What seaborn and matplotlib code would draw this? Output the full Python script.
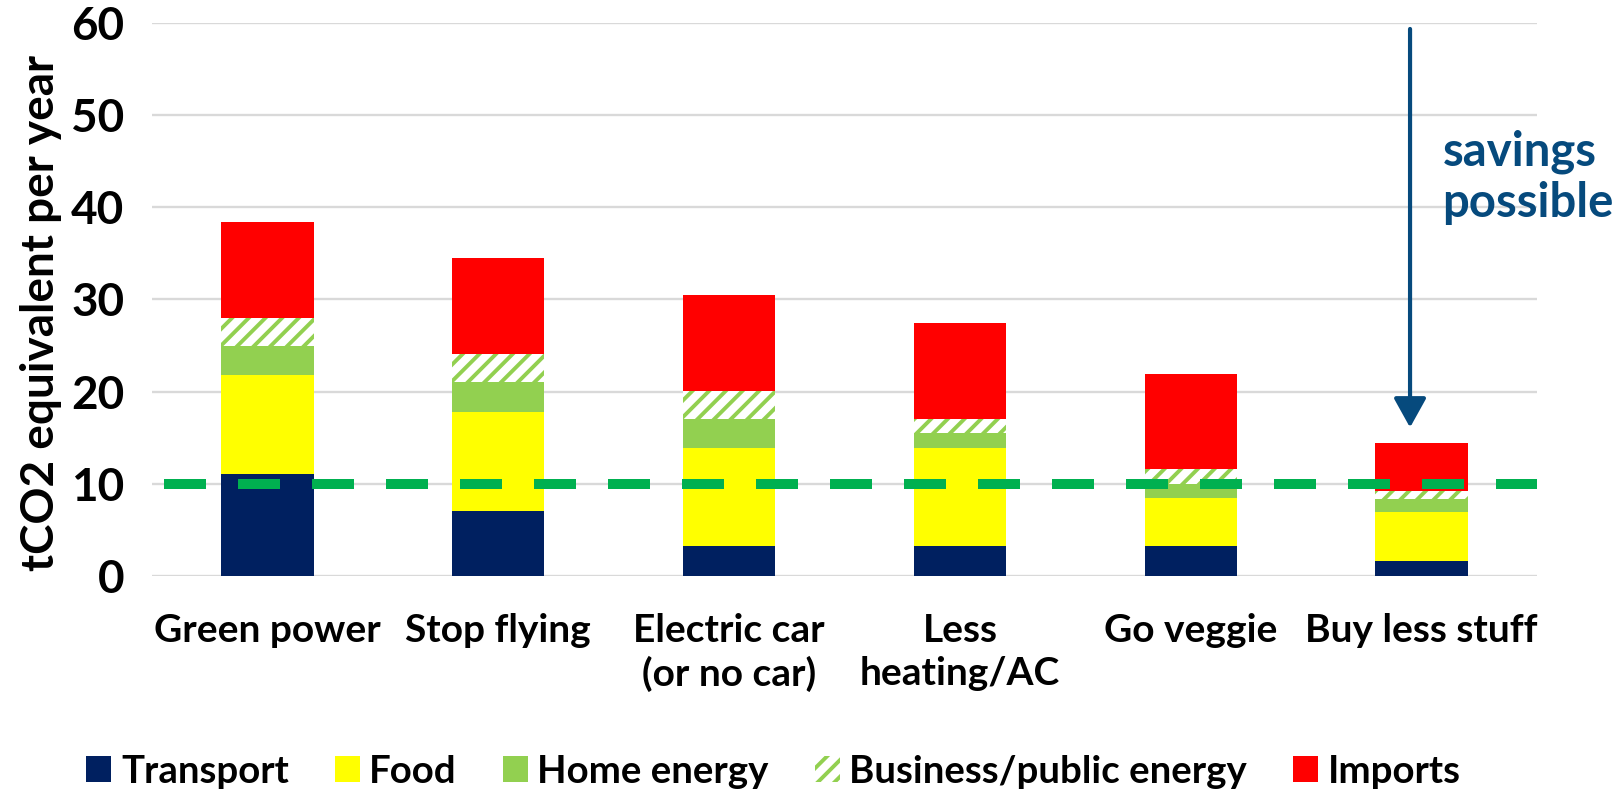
import numpy as np
import pandas as pd
import matplotlib
matplotlib.use("Agg")
import matplotlib.pyplot as plt
from matplotlib.patches import Patch
import seaborn as sns

# Scenarios (cumulative lifestyle changes) and per-sector emissions, tCO2e / year
scenarios = ["Green power", "Stop flying", "Electric car\n(or no car)",
             "Less\nheating/AC", "Go veggie", "Buy less stuff"]
sectors = ["Transport", "Food", "Home energy", "Business/public energy", "Imports"]

transport = [11.1, 7.1, 3.2, 3.2, 3.2, 1.6]
food = [10.7, 10.7, 10.7, 10.7, 5.3, 5.3]
home_energy = [3.1, 3.2, 3.1, 1.6, 1.5, 1.5]
business_energy = [3.1, 3.1, 3.1, 1.55, 1.55, 0.85]
imports = [10.4, 10.4, 10.4, 10.4, 10.4, 5.2]

target = 10  # per-person target line
yticks = [0, 10, 20, 30, 40, 50, 60]

colors = {
    "Transport": "#002060",
    "Food": "#FFFF00",
    "Home energy": "#92D050",
    "Business/public energy": "#92D050",
    "Imports": "#FF0000",
}
arrow_blue = "#064A7D"

sns.set_theme(style="white")
plt.rcParams["font.family"] = ["Lato", "DejaVu Sans"]
plt.rcParams["font.weight"] = "bold"
plt.rcParams["hatch.linewidth"] = 2.8
for key in ["text.color", "axes.labelcolor", "xtick.color", "ytick.color"]:
    plt.rcParams[key] = "black"

series = dict(zip(sectors, [transport, food, home_energy, business_energy, imports]))
df = pd.DataFrame(
    [(s, sec, v) for sec in sectors for s, v in zip(scenarios, series[sec])],
    columns=["scenario", "sector", "value"],
)

fig = plt.figure(figsize=(16.19, 7.89), dpi=100)
ax = fig.add_axes([152 / 1619, 1 - 576 / 789, (1537 - 152) / 1619, (576 - 22.5) / 789])

bottom = np.zeros(len(scenarios))
for sec in sectors:
    sub = df[df["sector"] == sec]
    kws = dict(linewidth=0)
    if sec == "Business/public energy":
        kws.update(facecolor="white", edgecolor=colors[sec], hatch="//")
    sns.barplot(data=sub, x="scenario", y="value", order=scenarios,
                color=colors[sec], width=0.4, errorbar=None, saturation=1,
                bottom=bottom.copy(), ax=ax, zorder=2, **kws)
    bottom += sub["value"].to_numpy()

# Target line
ax.axhline(target, color="#00B050", lw=7.2, ls=(6.2, (4.2, 3.2)), zorder=4)

# Savings arrow and note
ax.annotate("", xy=(4.95, 16.1), xytext=(4.95, 59.3),
            arrowprops=dict(arrowstyle="-|>,head_length=0.9,head_width=0.5",
                            mutation_scale=20, lw=3, color=arrow_blue,
                            shrinkA=0, shrinkB=0), zorder=5)
ax.text(5.09, 43.2, "savings\npossible", color=arrow_blue, fontsize=34,
        fontweight="bold", ha="left", va="center", linespacing=1.2,
        clip_on=False)

ax.set_xlim(-0.5, 5.5)
ax.set_ylim(0, 60)
ax.set_yticks(yticks)
ax.yaxis.grid(True, color="#D9D9D9", lw=1.7)
ax.set_axisbelow(True)
for sp in ax.spines.values():
    sp.set_visible(False)
ax.tick_params(axis="both", length=0)
ax.tick_params(axis="y", pad=20, labelsize=33)
ax.tick_params(axis="x", pad=27, labelsize=28)
for lab in ax.get_xticklabels():
    lab.set_linespacing(1.25)
ax.set_xlabel("")
ax.set_ylabel("tCO2 equivalent per year", fontsize=33, fontweight="bold")
ax.yaxis.set_label_coords(-0.065, 0.476)

handles = []
for sec in sectors:
    if sec == "Business/public energy":
        handles.append(Patch(facecolor="white", edgecolor=colors[sec], hatch="//",
                             linewidth=0, label=sec))
    else:
        handles.append(Patch(facecolor=colors[sec], linewidth=0, label=sec))
fig.legend(handles=handles, loc="center", bbox_to_anchor=(0.4778, 0.022),
           ncol=5, frameon=False, fontsize=27.6, handlelength=0.65,
           handleheight=0.65, handletextpad=0.25, columnspacing=1.2,
           borderaxespad=0, borderpad=0)

fig.savefig("out.png", dpi=100)
